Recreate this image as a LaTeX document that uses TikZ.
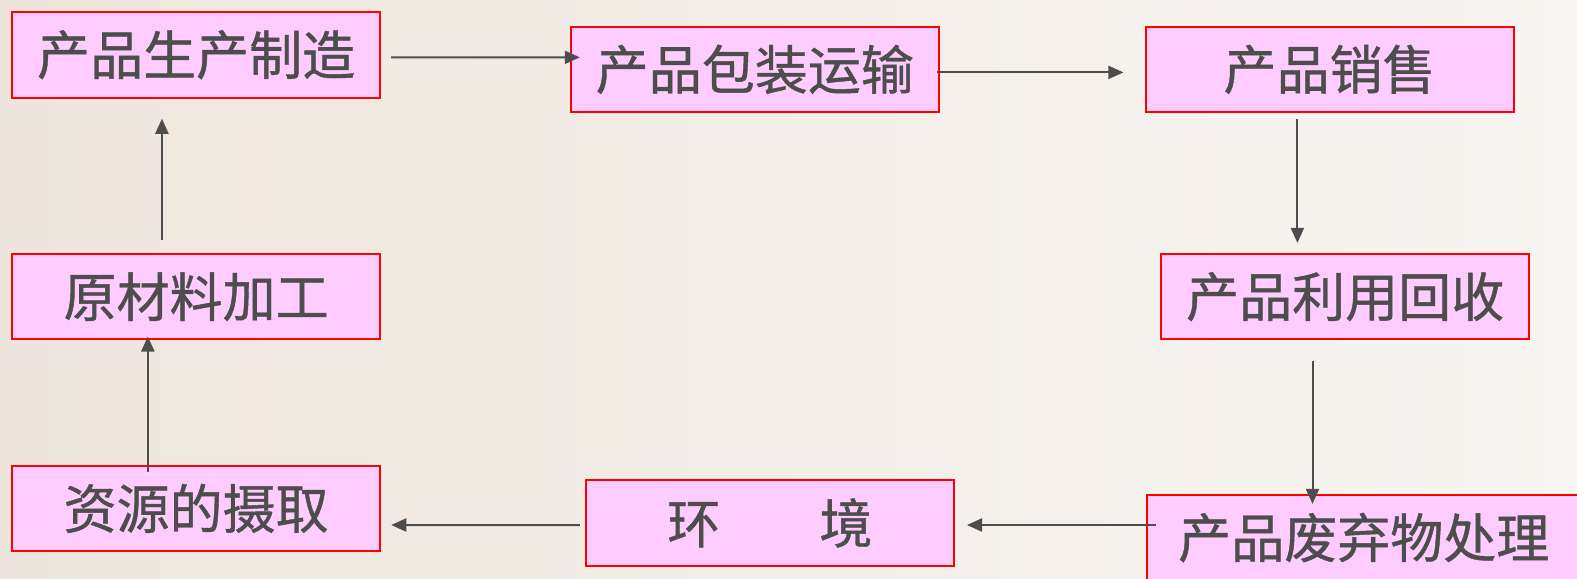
\documentclass[tikz,border=0pt]{standalone}
\usepackage{fontspec}
\newfontfamily\cjk[FakeBold=0.8]{Noto Sans CJK SC}
\usetikzlibrary{arrows.meta,calc}
\definecolor{bgL}{RGB}{238,230,221}
\definecolor{bgR}{RGB}{248,245,242}
\definecolor{boxfill}{RGB}{255,204,255}
\definecolor{ink}{RGB}{77,77,77}
\tikzset{
  stage/.style={draw=red, line width=0.04cm, fill=boxfill, text=ink,
    minimum width=7.32cm, minimum height=1.7cm, inner sep=0pt,
    font=\cjk\fontsize{30}{30}\selectfont},
  arr/.style={draw=ink, line width=0.04cm, -{Triangle[length=0.3cm,width=0.26cm]}}
}
\begin{document}
\begin{tikzpicture}[x=0.02cm,y=-0.02cm]
\useasboundingbox (0,0) rectangle (1568,575);
\clip (0,0) rectangle (1568,575);
\shade[left color=bgL, right color=bgR] (0,0) rectangle (1568,575);
\node[stage] (b1) at (195,54.5) {产品生产制造};
\node[stage] (b2) at (750.5,69) {产品包装运输};
\node[stage] (b3) at (1322,69) {产品销售};
\node[stage] (b4) at (1337.5,295) {产品利用回收};
\node[stage, minimum width=8.64cm] (b5) at (1356,534.5) {产品废弃物处理};
\node[stage] (b6) at (765.5,520) {环\hspace{1.87em}境};
\node[stage] (b7) at (195,505.5) {资源的摄取};
\node[stage] (b8) at (195,295) {原材料加工};
\draw[arr] ($(b1.east)+(10,2.5)$) -- ($(b2.west)+(10,-12)$);
\draw[arr] ($(b2.east)+(-3,3)$) -- ($(b3.west)+(-21,3)$);
\draw[arr] ($(b3.south)+(-32,6)$) -- ($(b4.north)+(-47.5,-10)$);
\draw[arr] ($(b4.south)+(-32.5,20)$) -- ($(b5.north)+(-51,10)$);
\draw[arr] ($(b5.west)+(10,-12.5)$) -- ($(b6.east)+(12,2)$);
\draw[arr] ($(b6.west)+(-5,2)$) -- ($(b7.east)+(10,16.5)$);
\draw[arr] ($(b7.north)+(-48,7)$) -- ($(b8.south)+(-48,-4)$);
\draw[arr] ($(b8.north)+(-34,-13)$) -- ($(b1.south)+(-34,20)$);
\end{tikzpicture}
\end{document}
